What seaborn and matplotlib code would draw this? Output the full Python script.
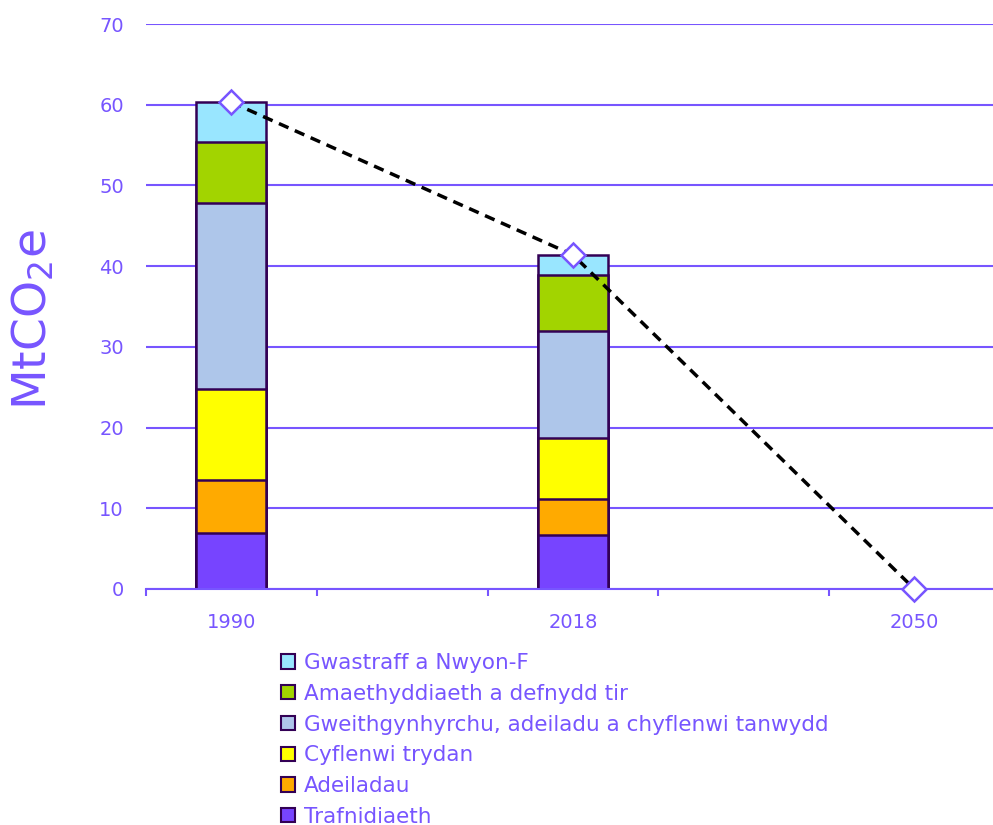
import numpy as np
import pandas as pd
import matplotlib.pyplot as plt
import seaborn as sns
from matplotlib.patches import Patch

# data
years = ['1990', '2018', '2050']
bar_years = ['1990', '2018']
sectors = ['Trafnidiaeth', 'Adeiladau', 'Cyflenwi trydan',
           'Gweithgynhyrchu, adeiladu a chyflenwi tanwydd',
           'Amaethyddiaeth a defnydd tir', 'Gwastraff a Nwyon-F']
trafnidiaeth = [6.9, 6.7]
adeiladau = [6.6, 4.4]
cyflenwi_trydan = [11.3, 7.6]
gweithgynhyrchu = [23.0, 13.3]
amaethyddiaeth = [7.6, 6.9]
gwastraff = [4.9, 2.5]
pathway = [60.3, 41.4, 0.0]

colors = ['#7744FF', '#FFAA00', '#FFFF00', '#AEC6EA', '#A2D400', '#99E6FF']
purple = '#7755FF'
edge = '#330055'

sns.set_style('white')
plt.rcParams['font.family'] = ['DejaVu Sans']

layers = [trafnidiaeth, adeiladau, cyflenwi_trydan, gweithgynhyrchu,
          amaethyddiaeth, gwastraff]
cum = np.cumsum(np.array(layers), axis=0)

fig = plt.figure(figsize=(9.93, 8.25), dpi=100)
ax = fig.add_axes([146 / 993, 1 - 589 / 825, 1 - 146 / 993, 565 / 825])

# stacked bars: draw cumulative totals from top layer down
for i in range(len(sectors) - 1, -1, -1):
    df = pd.DataFrame({'year': bar_years, 'value': cum[i]})
    sns.barplot(data=df, x='year', y='value', order=years, color=colors[i],
                saturation=1, width=0.205, edgecolor=edge, linewidth=1.8,
                errorbar=None, ax=ax, zorder=3)

ax.plot(np.arange(len(years)), pathway, color='black', lw=2.5,
        linestyle=(0, (3, 2)), marker='D', markersize=12,
        markerfacecolor='white', markeredgecolor=purple,
        markeredgewidth=1.8, zorder=5, clip_on=False)

ax.set_xlim(-0.25, 2.23)
ax.set_ylim(0, 70)
ax.set_yticks(range(0, 71, 10))
ax.grid(axis='y', color=purple, lw=1.5, zorder=0)
ax.set_axisbelow(True)
for s in ['top', 'right', 'left']:
    ax.spines[s].set_visible(False)
ax.spines['bottom'].set_color(purple)
ax.spines['bottom'].set_linewidth(1.5)
ax.spines['bottom'].set_zorder(4)

ax.set_xticks(range(len(years)))
ax.set_xticklabels(years)
ax.set_xticks([-0.25, 0.25, 0.75, 1.25, 1.75], minor=True)
ax.tick_params(axis='x', which='major', length=0, pad=17, labelsize=14,
               labelcolor=purple)
ax.tick_params(axis='x', which='minor', bottom=True, length=5, width=1.5,
               color=purple, direction='out')
ax.tick_params(axis='y', length=0, pad=16, labelsize=14, labelcolor=purple)

ax.set_xlabel('')
ax.set_ylabel(r'MtCO$_2$e', fontsize=34, color=purple, va='center')
ax.yaxis.set_label_coords(-0.133, 0.476)

handles = [Patch(facecolor=colors[i], edgecolor=edge, lw=1.5)
           for i in range(len(sectors) - 1, -1, -1)]
labels = sectors[::-1]
fig.legend(handles, labels, loc='upper left',
           bbox_to_anchor=(281 / 993, 1 - 653 / 825), frameon=False,
           fontsize=15.5, labelcolor=purple, handlelength=0.65,
           handleheight=0.65, handletextpad=0.4, labelspacing=0.5,
           borderpad=0, borderaxespad=0)

fig.savefig('out.png', dpi=100)
